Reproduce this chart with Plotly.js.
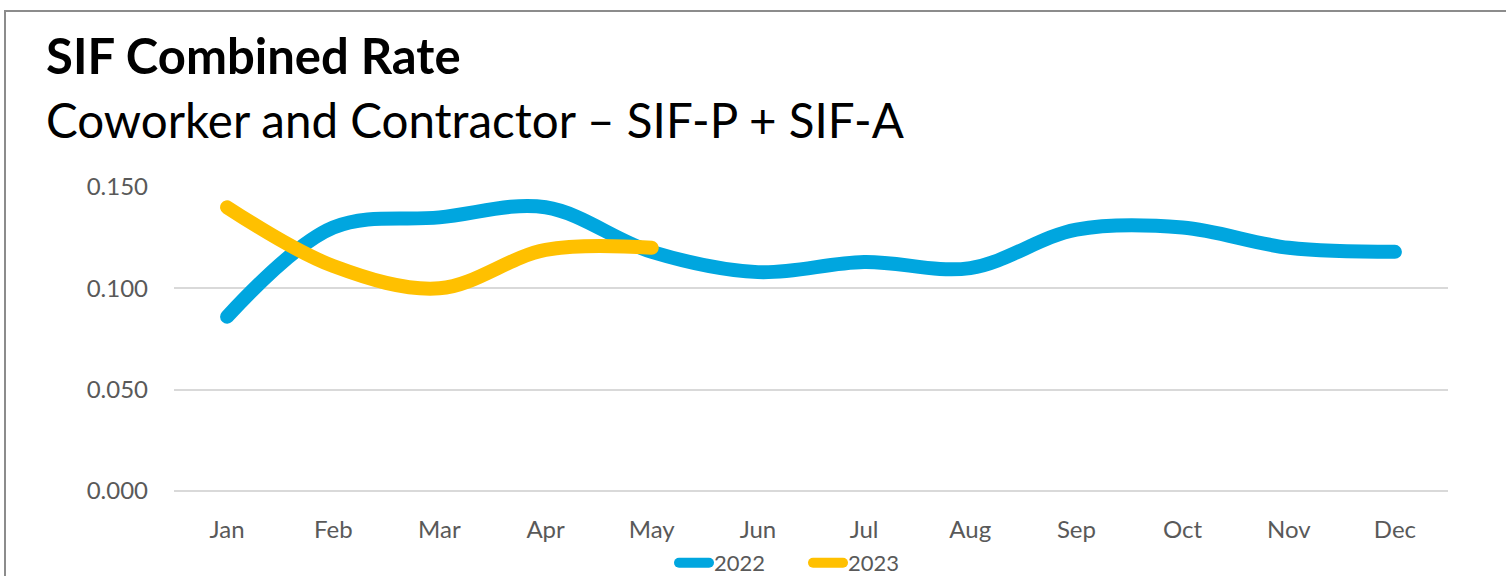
<!DOCTYPE html>
<html>
<head>
<meta charset="utf-8">
<script src="https://cdn.plot.ly/plotly-3.0.1.min.js"></script>
<style>
  html, body { margin: 0; padding: 0; background: #ffffff; }
  #wrap { position: relative; width: 1506px; height: 576px; overflow: hidden; }
  #frame { position: absolute; left: 4px; top: 10px; width: 1600px; height: 700px;
           border-left: 2px solid #8c8c8c; border-top: 2px solid #8c8c8c; box-sizing: border-box; }
  #chart { position: absolute; left: 0; top: 0; width: 1506px; height: 576px; }
  #chart .js-line { stroke-linecap: round !important; }
</style>
</head>
<body>
<div id="wrap">
  <div id="frame"></div>
  <div id="chart"></div>
</div>
<script>
const months = ["Jan", "Feb", "Mar", "Apr", "May", "Jun", "Jul", "Aug", "Sep", "Oct", "Nov", "Dec"];
const rate2022 = [0.086, 0.130, 0.135, 0.140, 0.118, 0.108, 0.113, 0.110, 0.129, 0.130, 0.120, 0.118];
const months2023 = ["Jan", "Feb", "Mar", "Apr", "May"];
const rate2023 = [0.140, 0.111, 0.100, 0.119, 0.120];
const yTicks = [0, 0.05, 0.10, 0.15];
const yTickText = ["0.000", "0.050", "0.100", "0.150"];
const titleText = "SIF Combined Rate";
const subtitleText = "Coworker and Contractor – SIF-P + SIF-A";

const FONT = "Lato, 'Open Sans', sans-serif";

const traces = [
  { x: months, y: rate2022, name: "2022", type: "scatter", mode: "lines",
    line: { color: "#00A6DF", width: 14, shape: "spline", smoothing: 1 } },
  { x: months2023, y: rate2023, name: "2023", type: "scatter", mode: "lines",
    line: { color: "#FFC000", width: 14, shape: "spline", smoothing: 1 } }
];

const layout = {
  width: 1506, height: 576,
  paper_bgcolor: "rgba(0,0,0,0)", plot_bgcolor: "rgba(0,0,0,0)",
  margin: { l: 174, r: 58, t: 187, b: 85 },
  font: { family: FONT, color: "#595959", size: 24 },
  showlegend: true,
  legend: { orientation: "h", xref: "container", yref: "container",
            x: 808 / 1506, xanchor: "center", y: 1 - 563 / 576, yanchor: "middle",
            font: { size: 22, color: "#595959" }, itemwidth: 30, tracegroupgap: 0,
            entrywidth: 89, entrywidthmode: "pixels",
            bgcolor: "rgba(0,0,0,0)" },
  xaxis: { type: "category", categoryarray: months, categoryorder: "array",
           range: [-0.5, 11.5], showgrid: false, zeroline: false, showline: false,
           ticks: "", ticklabelstandoff: 22, tickfont: { size: 24, color: "#595959" },
           fixedrange: true, automargin: false },
  yaxis: { range: [0, 0.15], tickvals: yTicks, ticktext: yTickText,
           showgrid: true, gridcolor: "#d9d9d9", gridwidth: 2,
           zeroline: true, zerolinecolor: "#d9d9d9", zerolinewidth: 2,
           showline: false, ticks: "", ticklabelstandoff: 25,
           tickfont: { size: 24, color: "#595959" }, fixedrange: true, automargin: false },
  annotations: [
    { text: "<b>" + titleText + "</b>", xref: "paper", yref: "paper",
      x: (44 - 174) / 1274, y: 1 + (187 - 55) / 304, xanchor: "left", yanchor: "middle",
      showarrow: false, font: { family: FONT, size: 49, color: "#000000" } },
    { text: subtitleText, xref: "paper", yref: "paper",
      x: (44 - 174) / 1274, y: 1 + (187 - 119) / 304, xanchor: "left", yanchor: "middle",
      showarrow: false, font: { family: FONT, size: 47.5, color: "#000000" } }
  ]
};

Plotly.newPlot("chart", traces, layout, { displayModeBar: false, staticPlot: true });
</script>
</body>
</html>
